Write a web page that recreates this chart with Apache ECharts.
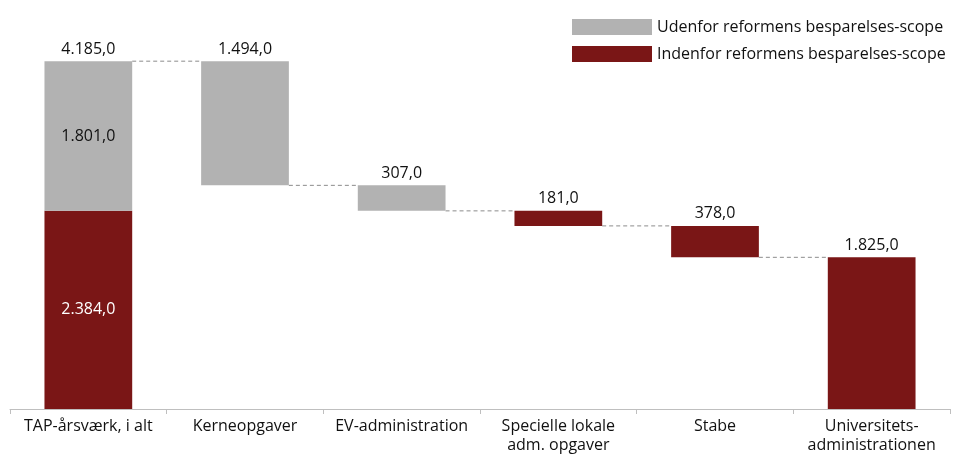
<!DOCTYPE html>
<html><head><meta charset="utf-8">
<script src="https://cdn.jsdelivr.net/npm/echarts@6/dist/echarts.min.js"></script>
<style>html,body{margin:0;padding:0;background:#fff}#c{width:953px;height:456px}</style>
</head><body><div id="c"></div>
<script>
var categories = ['TAP-årsværk, i alt', 'Kerneopgaver', 'EV-administration', 'Specielle lokale\nadm. opgaver', 'Stabe', 'Universitets-\nadministrationen'];
var total = 4185;
var totalOutside = 1801;
var totalInside = 2384;
var reductions = [1494, 307, 181, 378];
var reductionType = ['udenfor', 'udenfor', 'indenfor', 'indenfor'];
var finalValue = 1825;
var seriesNames = ['Udenfor reformens besparelses-scope', 'Indenfor reformens besparelses-scope'];

var GREY = '#b2b2b2', RED = '#7a1616';
var FONT = "'Open Sans', sans-serif";
var FS = 16;

function fmt(v) {
  var s = Math.round(v).toString().replace(/\B(?=(\d{3})+(?!\d))/g, '.');
  return s + ',0';
}

var base = [0], grey = [{value: totalOutside, label: {show: true, position: 'inside', color: '#111'}}],
    red = [{value: totalInside, label: {show: true, position: 'inside', color: '#fff'}}];
var levels = [total];
var cur = total;
reductions.forEach(function (r, i) {
  cur -= r;
  base.push(cur);
  levels.push(cur);
  if (reductionType[i] === 'udenfor') { grey.push(r); red.push('-'); }
  else { grey.push('-'); red.push(r); }
});
base.push(0); grey.push('-'); red.push(finalValue);
var topLbl = [0, '-', '-', '-', '-', '-'];
var connectors = levels.map(function (v, i) { return [i, v]; });

var chart = echarts.init(document.getElementById('c'));
var BW = 0.56;
var lbl = {show: true, position: 'top', fontSize: FS, color: '#111', fontFamily: FONT, distance: 4,
           formatter: function (p) { return fmt(p.value); }};
chart.setOption({
  animation: false,
  textStyle: {fontFamily: FONT},
  grid: {left: 10, right: 3, top: 35, bottom: 47, containLabel: false},
  legend: {
    orient: 'vertical', left: 567, top: 14, itemWidth: 80, itemHeight: 16, itemGap: 11,
    textStyle: {fontSize: FS, color: '#111', fontFamily: FONT},
    data: seriesNames, icon: 'rect'
  },
  xAxis: {
    type: 'category', data: categories,
    axisLine: {lineStyle: {color: '#bfbfbf'}},
    axisTick: {show: true, length: 5, lineStyle: {color: '#bfbfbf'}},
    axisLabel: {fontSize: FS, color: '#111', margin: 8, lineHeight: 19, interval: 0, fontFamily: FONT}
  },
  yAxis: {type: 'value', min: 0, max: 4500, show: false, splitLine: {show: false}},
  series: [
    {type: 'bar', stack: 'w', data: base, barWidth: (BW * 100) + '%', itemStyle: {color: 'transparent'}, silent: true},
    {name: seriesNames[1], type: 'bar', stack: 'w', data: red, itemStyle: {color: RED}, label: lbl},
    {name: seriesNames[0], type: 'bar', stack: 'w', data: grey, itemStyle: {color: GREY}, label: lbl},
    {type: 'bar', stack: 'w', data: topLbl, itemStyle: {color: 'transparent'},
     label: {show: true, position: 'top', fontSize: FS, color: '#111', fontFamily: FONT, distance: 4,
             formatter: function () { return fmt(total); }}},
    {type: 'custom', data: connectors, silent: true, z: 1,
     renderItem: function (params, api) {
       var i = api.value(0), v = api.value(1);
       var a = api.coord([i, v]), b = api.coord([i + 1, v]);
       var hw = api.size([1, 0])[0] * BW / 2;
       return {type: 'line', shape: {x1: a[0] + hw, y1: a[1], x2: b[0] - hw, y2: b[1]},
               style: {stroke: '#8c8c8c', lineWidth: 1, lineDash: [4, 3]}};
     }}
  ]
});
</script></body></html>
